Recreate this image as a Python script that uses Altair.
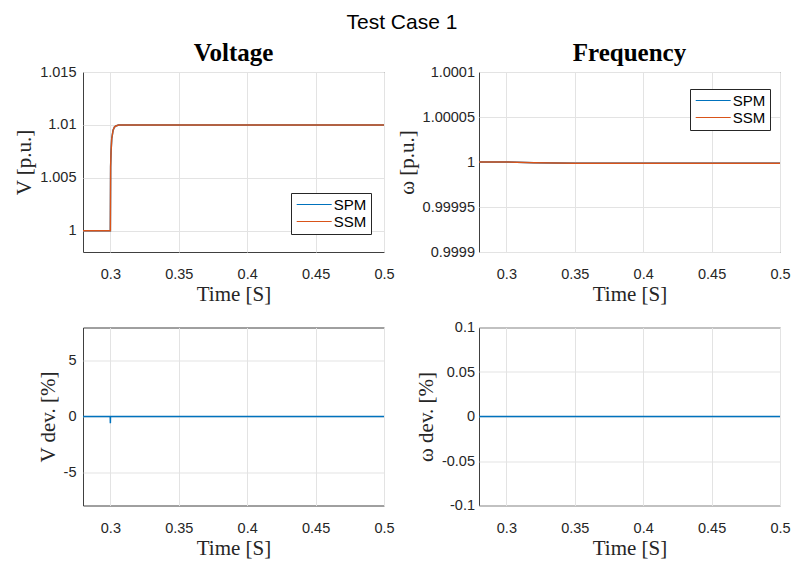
import altair as alt
import pandas as pd

# ---------------- data ----------------
v_time = [0.28, 0.3, 0.3002, 0.3005, 0.301, 0.302, 0.303, 0.304, 0.306, 0.31, 0.5]
v_spm = [1.0, 1.0, 1.006, 1.0075, 1.0087, 1.0095, 1.0098, 1.0099, 1.01, 1.01, 1.01]
v_ssm = [1.0, 1.0, 1.006, 1.0075, 1.0087, 1.0095, 1.0098, 1.0099, 1.01, 1.01, 1.01]

w_time = [0.28, 0.3, 0.32, 0.35, 0.4, 0.45, 0.5]
w_spm = [1.0, 1.0, 0.9999993, 0.9999986, 0.9999985, 0.9999985, 0.9999985]
w_ssm = [1.0, 1.0, 0.9999993, 0.9999986, 0.9999985, 0.9999985, 0.9999985]

vdev_time = [0.28, 0.2999, 0.3, 0.3001, 0.5]
vdev_vals = [0.0, 0.0, -0.6, 0.0, 0.0]

wdev_time = [0.28, 0.5]
wdev_vals = [0.0, 0.0]

series_names = ["SPM", "SSM"]
series_colors = ["#0072BD", "#D95319"]

x_ticks = [0.3, 0.35, 0.4, 0.45, 0.5]
v_ticks = [1.0, 1.005, 1.01, 1.015]
w_ticks = [0.9999, 0.99995, 1.0, 1.00005, 1.0001]
vdev_ticks = [-5, 0, 5]
wdev_ticks = [-0.1, -0.05, 0, 0.05, 0.1]

X_DOMAIN = [0.28, 0.5]

TICK_FONT = "Liberation Sans"
SERIF = "Liberation Serif"
TXT = "#262626"


def two_series(t, a, b):
    rows = [{"t": ti, "val": vi, "series": "SPM"} for ti, vi in zip(t, a)]
    rows += [{"t": ti, "val": vi, "series": "SSM"} for ti, vi in zip(t, b)]
    return pd.DataFrame(rows)


def x_enc(lpad, tpad):
    return alt.X(
        "t:Q",
        scale=alt.Scale(domain=X_DOMAIN, nice=False, zero=False),
        axis=alt.Axis(values=x_ticks, title="Time [S]",
                      labelExpr="'' + datum.value",
                      labelPadding=lpad, titlePadding=tpad),
    )


def y_enc(domain, ticks, title, lpad=7):
    return alt.Y(
        "val:Q",
        scale=alt.Scale(domain=domain, nice=False, zero=False),
        axis=alt.Axis(values=ticks, title=title, labelExpr="'' + datum.value",
                      labelPadding=lpad),
    )


def panel_with_legend(df, domain, ticks, ytitle, ptitle, lx, ly, w, h, lpad):
    color = alt.Color(
        "series:N",
        scale=alt.Scale(domain=series_names, range=series_colors),
        legend=alt.Legend(
            title=None, orient="none", legendX=lx, legendY=ly,
            symbolType="M-3,0H3", symbolSize=136, symbolStrokeWidth=1.2,
            symbolOffset=11.7,
            labelFont=TICK_FONT, labelFontSize=15, labelColor="#000000",
            strokeColor="#262626", fillColor="white", padding=4,
            rowPadding=1, labelOffset=12,
        ),
    )
    base = alt.Chart(df).mark_line(strokeWidth=1.5, clip=True).encode(
        x=x_enc(15, 3), y=y_enc(domain, ticks, ytitle, lpad), color=color
    )
    layer = alt.layer(
        base.transform_filter(alt.datum.series == "SPM"),
        base.transform_filter(alt.datum.series == "SSM"),
    ).properties(
        width=w, height=h,
        title=alt.TitleParams(ptitle, font=SERIF, fontSize=25, fontWeight="bold",
                              color="#000000", offset=-2),
    )
    return layer


def panel_single(t, v, domain, ticks, ytitle, w, h, lpad):
    df = pd.DataFrame({"t": t, "val": v})
    return alt.Chart(df).mark_line(strokeWidth=1.5, clip=True, color="#0072BD").encode(
        x=x_enc(16, 2), y=y_enc(domain, ticks, ytitle, lpad)
    ).properties(width=w, height=h)


tl = panel_with_legend(two_series(v_time, v_spm, v_ssm), [0.998, 1.015], v_ticks,
                       "V [p.u.]", "Voltage", 208, 121, 301, 180, 7)
tr = panel_with_legend(two_series(w_time, w_spm, w_ssm), [0.9999, 1.0001], w_ticks,
                       "ω [p.u.]", "Frequency", 211, 17, 301, 180, 4.5)
bl = panel_single(vdev_time, vdev_vals, [-8, 8], vdev_ticks, "V dev. [%]", 301, 178, 7)
br = panel_single(wdev_time, wdev_vals, [-0.1, 0.1], wdev_ticks, "ω dev. [%]", 301, 178, 4.5)

chart = alt.concat(
    tl, tr, bl, br, columns=2, spacing={"row": 13.5, "column": 0}
).resolve_scale(color="independent").resolve_legend(color="independent").properties(
    title=alt.TitleParams("Test Case 1", font=TICK_FONT, fontSize=21, fontWeight="normal",
                          color="#000000", anchor="middle", offset=8),
    padding={"left": 5, "top": 3, "right": 0, "bottom": 0},
    background="white",
).configure_view(
    stroke="#404040", strokeWidth=1
).configure_axis(
    grid=True, gridColor="#e3e3e3", gridWidth=1,
    domain=False, ticks=False,
    labelFont=TICK_FONT, labelFontSize=14.5, labelColor=TXT,
    labelFlush=False, labelOverlap=False,
    titleFont=SERIF, titleFontSize=21, titleFontWeight="normal", titleColor=TXT,
).configure_axisY(
    titlePadding=5,
)

chart.save("out.html", embed_options={"renderer": "svg", "actions": False})
